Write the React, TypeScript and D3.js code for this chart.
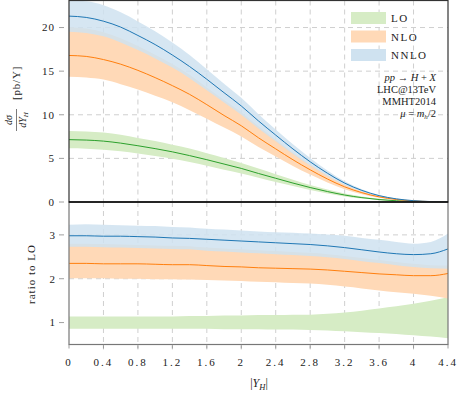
import React from 'react';
import * as d3 from 'd3';

// rapidity grid, step 0.2
const yh = [0, 0.2, 0.4, 0.6, 0.8, 1.0, 1.2, 1.4, 1.6, 1.8, 2.0, 2.2, 2.4, 2.6, 2.8, 3.0, 3.2, 3.4, 3.6, 3.8, 4.0, 4.2, 4.4];

// dσ/dY_H [pb/Y]
const loCentral = [7.15, 7.10, 6.98, 6.75, 6.45, 6.12, 5.75, 5.32, 4.85, 4.35, 3.85, 3.27, 2.72, 2.17, 1.66, 1.20, 0.80, 0.50, 0.28, 0.14, 0.06, 0.02, 0.005];
const loUp = [8.15, 8.09, 7.96, 7.70, 7.35, 6.98, 6.56, 6.12, 5.58, 5.05, 4.47, 3.83, 3.18, 2.56, 1.96, 1.44, 0.98, 0.64, 0.37, 0.19, 0.086, 0.03, 0.008];
const loDown = [6.15, 6.11, 6.00, 5.81, 5.55, 5.26, 4.95, 4.58, 4.17, 3.70, 3.27, 2.78, 2.28, 1.82, 1.38, 0.98, 0.64, 0.39, 0.21, 0.10, 0.043, 0.014, 0.003];

const nloCentral = [16.80, 16.69, 16.33, 15.80, 15.09, 14.26, 13.34, 12.34, 11.16, 9.92, 8.74, 7.36, 6.09, 4.84, 3.69, 2.64, 1.74, 1.07, 0.59, 0.29, 0.124, 0.041, 0.011];
const nloUp = [20.02, 19.88, 19.47, 18.77, 17.87, 16.89, 15.81, 14.58, 13.14, 11.70, 10.28, 8.67, 7.15, 5.66, 4.30, 3.07, 2.02, 1.24, 0.68, 0.33, 0.14, 0.046, 0.012];
const nloDown = [14.37, 14.27, 14.03, 13.50, 12.90, 12.18, 11.44, 10.53, 9.55, 8.53, 7.51, 6.31, 5.22, 4.12, 3.14, 2.23, 1.46, 0.89, 0.48, 0.24, 0.10, 0.032, 0.008];

const nnloCentral = [21.31, 21.16, 20.73, 20.05, 19.09, 18.05, 16.85, 15.53, 14.07, 12.53, 11.01, 9.29, 7.67, 6.08, 4.61, 3.30, 2.17, 1.33, 0.73, 0.36, 0.153, 0.051, 0.013];
const nnloUp = [23.09, 23.00, 22.55, 21.74, 20.70, 19.58, 18.29, 16.86, 15.23, 13.57, 11.94, 10.07, 8.32, 6.62, 5.03, 3.61, 2.38, 1.47, 0.81, 0.40, 0.17, 0.057, 0.015];
const nnloDown = [19.52, 19.38, 18.99, 18.29, 17.42, 16.46, 15.41, 14.20, 12.80, 11.40, 10.01, 8.44, 6.96, 5.51, 4.18, 2.99, 1.96, 1.20, 0.66, 0.32, 0.136, 0.045, 0.011];

// ratio to LO
const rLoUp = [1.14, 1.14, 1.14, 1.14, 1.14, 1.14, 1.14, 1.15, 1.15, 1.16, 1.16, 1.17, 1.17, 1.18, 1.18, 1.20, 1.23, 1.27, 1.32, 1.37, 1.43, 1.50, 1.58];
const rLoDown = [0.86, 0.86, 0.86, 0.86, 0.86, 0.86, 0.86, 0.86, 0.86, 0.85, 0.85, 0.85, 0.84, 0.84, 0.83, 0.82, 0.80, 0.78, 0.76, 0.74, 0.71, 0.68, 0.64];
const rNlo = [2.35, 2.35, 2.34, 2.34, 2.34, 2.33, 2.32, 2.32, 2.30, 2.28, 2.27, 2.25, 2.24, 2.23, 2.22, 2.20, 2.17, 2.14, 2.11, 2.09, 2.07, 2.07, 2.12];
const rNloUp = [2.80, 2.80, 2.79, 2.78, 2.77, 2.76, 2.75, 2.74, 2.71, 2.69, 2.67, 2.65, 2.63, 2.61, 2.59, 2.56, 2.52, 2.47, 2.43, 2.38, 2.34, 2.31, 2.30];
const rNloDown = [2.01, 2.01, 2.01, 2.00, 2.00, 1.99, 1.99, 1.98, 1.97, 1.96, 1.95, 1.93, 1.92, 1.90, 1.89, 1.86, 1.82, 1.78, 1.73, 1.69, 1.66, 1.61, 1.55];
const rNnlo = [2.98, 2.98, 2.97, 2.97, 2.96, 2.95, 2.93, 2.92, 2.90, 2.88, 2.86, 2.84, 2.82, 2.80, 2.78, 2.75, 2.71, 2.66, 2.61, 2.57, 2.55, 2.57, 2.68];
const rNnloUp = [3.23, 3.24, 3.23, 3.22, 3.21, 3.20, 3.18, 3.17, 3.14, 3.12, 3.10, 3.08, 3.06, 3.05, 3.03, 3.01, 2.98, 2.93, 2.89, 2.84, 2.80, 2.84, 3.03];
const rNnloDown = [2.73, 2.73, 2.72, 2.71, 2.70, 2.69, 2.68, 2.67, 2.64, 2.62, 2.60, 2.58, 2.56, 2.54, 2.52, 2.49, 2.45, 2.40, 2.36, 2.31, 2.27, 2.24, 2.23];

const xTicks = [0, 0.4, 0.8, 1.2, 1.6, 2, 2.4, 2.8, 3.2, 3.6, 4, 4.4];
const xTickLabels = ['0', '0.4', '0.8', '1.2', '1.6', '2', '2.4', '2.8', '3.2', '3.6', '4', '4.4'];
const topTicks = [0, 5, 10, 15, 20];
const ratioTicks = [1, 2, 3];
const legendLabels = ['LO', 'NLO', 'NNLO'];

const C = {
  lo: '#2ca02c',
  nlo: '#ff7f0e',
  nnlo: '#1f77b4',
  loBand: '#d6ecc5',
  nloBand: '#ffd9b7',
  nnloBand: '#cfe2f0',
  grid: '#cfcfcf',
};
const FONT = '"Liberation Serif", "DejaVu Serif", serif';

const left = 69;
const right = 448;
const topY0 = 0.5;
const split = 202;
const bottomY = 344.5;

export default function App() {
  const x = d3.scaleLinear().domain([0, 4.4]).range([left, right]);
  const y = d3.scaleLinear().domain([0, 23.1]).range([split, topY0]);
  const yr = d3.scaleLinear().domain([0.5, 3.75]).range([bottomY, split]);

  const band = (sc: d3.ScaleLinear<number, number>, lo: number[], hi: number[]) =>
    d3.area<number>()
      .x((_, i) => x(yh[i]))
      .y0((_, i) => sc(lo[i]))
      .y1((_, i) => sc(hi[i]))
      .curve(d3.curveMonotoneX)(yh) || '';

  const line = (sc: d3.ScaleLinear<number, number>, v: number[]) =>
    d3.line<number>()
      .x((_, i) => x(yh[i]))
      .y((_, i) => sc(v[i]))
      .curve(d3.curveMonotoneX)(yh) || '';

  const inner = xTicks.slice(1, -1);

  return (
    <svg width={465} height={398} style={{ position: 'absolute', left: 0, top: 0, background: '#fff' }}
      fontFamily={FONT}>
      <defs>
        <clipPath id="clipTop"><rect x={left} y={topY0} width={right - left} height={split - topY0} /></clipPath>
        <clipPath id="clipBot"><rect x={left} y={split} width={right - left} height={bottomY - split} /></clipPath>
      </defs>

      {/* grid */}
      <g stroke={C.grid} strokeWidth={1} strokeDasharray="5,4">
        {inner.map(t => (
          <line key={'vt' + t} x1={x(t)} x2={x(t)} y1={topY0} y2={split} />
        ))}
        {inner.map(t => (
          <line key={'vb' + t} x1={x(t)} x2={x(t)} y1={split} y2={bottomY + 5} />
        ))}
        {topTicks.slice(1).map(t => (
          <line key={'h' + t} x1={left} x2={right} y1={y(t)} y2={y(t)} />
        ))}
        {ratioTicks.map(t => (
          <line key={'hr' + t} x1={left} x2={right} y1={yr(t)} y2={yr(t)} />
        ))}
      </g>

      {/* upper panel: cross sections */}
      <g clipPath="url(#clipTop)">
        <path d={band(y, loDown, loUp)} fill={C.loBand} />
        <path d={band(y, nloDown, nloUp)} fill={C.nloBand} />
        <path d={band(y, nnloDown, nnloUp)} fill={C.nnloBand} fillOpacity={0.85} />
        <path d={line(y, loCentral)} fill="none" stroke={C.lo} strokeWidth={1} />
        <path d={line(y, nloCentral)} fill="none" stroke={C.nlo} strokeWidth={1} />
        <path d={line(y, nnloCentral)} fill="none" stroke={C.nnlo} strokeWidth={1} />
      </g>

      {/* lower panel: ratios */}
      <g clipPath="url(#clipBot)">
        <path d={band(yr, rLoDown, rLoUp)} fill={C.loBand} />
        <path d={band(yr, rNloDown, rNloUp)} fill={C.nloBand} />
        <path d={band(yr, rNnloDown, rNnloUp)} fill={C.nnloBand} fillOpacity={0.85} />
        <path d={line(yr, rNlo)} fill="none" stroke={C.nlo} strokeWidth={1} />
        <path d={line(yr, rNnlo)} fill="none" stroke={C.nnlo} strokeWidth={1} />
      </g>

      {/* frames */}
      <rect x={left} y={split} width={right - left} height={bottomY - split} fill="none" stroke="#777" strokeWidth={1.2} />
      <rect x={left} y={topY0} width={right - left} height={split - topY0} fill="none" stroke="#333" strokeWidth={1.2} />
      <line x1={left} x2={right} y1={split} y2={split} stroke="#111" strokeWidth={1.4} />

      {/* ticks */}
      <g stroke="#888" strokeWidth={0.8}>
        {topTicks.map(t => <line key={'yt' + t} x1={59} x2={64} y1={y(t)} y2={y(t)} />)}
        {ratioTicks.map(t => <line key={'yr' + t} x1={59} x2={64} y1={yr(t)} y2={yr(t)} />)}
        {xTicks.map(t => <line key={'xt' + t} x1={x(t)} x2={x(t)} y1={bottomY} y2={bottomY + 4} />)}
      </g>
      <g fontSize={11} fill="#222" textAnchor="end">
        {topTicks.map(t => <text key={'ytl' + t} x={55} y={y(t) + 3.8} letterSpacing={1}>{t}</text>)}
        {ratioTicks.map(t => <text key={'yrl' + t} x={55} y={yr(t) + 3.8}>{t}</text>)}
      </g>
      <g fontSize={11} fill="#222" textAnchor="middle">
        {xTicks.map((t, i) => <text key={'xtl' + t} x={x(t)} y={365.5} letterSpacing={2}>{xTickLabels[i]}</text>)}
      </g>

      {/* axis titles */}
      <text x={259} y={387} fontSize={12} textAnchor="middle" fill="#222">
        |<tspan fontStyle="italic">Y</tspan><tspan fontStyle="italic" fontSize={8.5} dy={2.5}>H</tspan><tspan dy={-2.5}>|</tspan>
      </text>
      <text transform="translate(35,274) rotate(-90)" fontSize={11} textAnchor="middle" fill="#222" letterSpacing={1}>
        ratio to LO
      </text>
      <g transform="translate(20,96) rotate(-90)" fill="#222">
        <text x={-24} y={-8} fontSize={10} textAnchor="middle" fontStyle="italic">dσ</text>
        <line x1={-35} x2={-13} y1={-3.5} y2={-3.5} stroke="#222" strokeWidth={0.6} />
        <text x={-24} y={6} fontSize={10} textAnchor="middle">
          <tspan fontStyle="italic">dY</tspan><tspan fontStyle="italic" fontSize={7} dy={2}>H</tspan>
        </text>
        <text x={-4} y={0} fontSize={11} textAnchor="start" letterSpacing={0.8}>[pb/Y]</text>
      </g>

      {/* legend */}
      {legendLabels.map((lab, i) => {
        const fills = [C.loBand, C.nloBand, C.nnloBand];
        const yy = 12 + i * 18.5;
        return (
          <g key={lab}>
            <rect x={351} y={yy} width={35} height={12} fill={fills[i]} />
            <text x={391} y={yy + 10} fontSize={11} fill="#222" letterSpacing={1.5}>{lab}</text>
          </g>
        );
      })}

      {/* process annotation */}
      <g fontSize={10.5} fill="#222" textAnchor="end">
        <text x={436} y={81}>
          <tspan fontStyle="italic">pp</tspan> → <tspan fontStyle="italic">H</tspan> + <tspan fontStyle="italic">X</tspan>
        </text>
        <text x={436} y={93}>LHC@13TeV</text>
        <text x={436} y={105}>MMHT2014</text>
        <text x={436} y={117}>
          <tspan fontStyle="italic">μ</tspan> = <tspan fontStyle="italic">m</tspan><tspan fontStyle="italic" fontSize={7} dy={2}>h</tspan><tspan dy={-2}>/2</tspan>
        </text>
      </g>
    </svg>
  );
}
